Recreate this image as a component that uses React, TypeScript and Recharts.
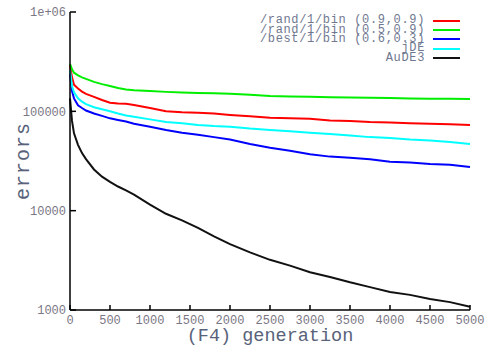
import React from 'react';
import { LineChart, Line, XAxis, YAxis } from 'recharts';

const generations = [0, 25, 50, 100, 150, 200, 300, 400, 500, 600, 700, 800, 1000, 1200, 1400, 1600, 1800, 2000, 2250, 2500, 2750, 3000, 3250, 3500, 3750, 4000, 4250, 4500, 4750, 5000];

const rand09 = [290000, 220000, 185000, 170000, 158000, 150000, 140000, 130000, 122000, 120000, 119000, 116000, 108000, 100000, 98000, 97000, 95000, 92000, 89000, 86000, 85000, 84000, 81000, 80000, 78000, 77000, 76000, 75000, 74000, 73000];
const rand05 = [300000, 265000, 245000, 230000, 220000, 212000, 198000, 188000, 180000, 172000, 166000, 163000, 160000, 157000, 155000, 153000, 152000, 150000, 147000, 143000, 141000, 140000, 139000, 138000, 137000, 136000, 135000, 134000, 134000, 133000];
const best06 = [240000, 160000, 135000, 115000, 108000, 102000, 95000, 90000, 85000, 82000, 79000, 75000, 70000, 65000, 61000, 58000, 55000, 52000, 47000, 43000, 40000, 37000, 35000, 34000, 33000, 31000, 30500, 29500, 29000, 27500];
const jde = [260000, 180000, 155000, 135000, 125000, 118000, 110000, 105000, 100000, 95000, 91000, 88000, 83000, 78000, 76000, 73000, 71000, 70000, 67000, 65000, 63000, 61000, 59000, 57000, 55000, 54000, 52000, 51000, 49000, 47000];
const aude3 = [135000, 80000, 60000, 46000, 38000, 33000, 26000, 22000, 19500, 17500, 16000, 14500, 11500, 9300, 8000, 6700, 5500, 4600, 3800, 3200, 2800, 2400, 2150, 1900, 1700, 1520, 1420, 1290, 1200, 1080];

const xTicks = [0, 500, 1000, 1500, 2000, 2500, 3000, 3500, 4000, 4500, 5000];
const yTicks = [1000, 10000, 100000, 1000000];
const yMinorTicks = [2, 3, 4, 5, 6, 7, 8, 9].flatMap((m) => [m * 1000, m * 10000, m * 100000]);

const series = [
    { key: 'rand09', name: '/rand/1/bin (0.9,0.9)', color: '#ff0000' },
    { key: 'rand05', name: '/rand/1/bin (0.5,0.9)', color: '#00ee00' },
    { key: 'best06', name: '/best/1/bin (0.6,0.3)', color: '#0000ff' },
    { key: 'jde', name: 'jDE', color: '#00ffff' },
    { key: 'aude3', name: 'AuDE3', color: '#111111' },
];

const values: Record<string, number[]> = { rand09, rand05, best06, jde, aude3 };

const data = generations.map((g, i) => {
    const row: Record<string, number> = { gen: g };
    Object.keys(values).forEach((k) => { row[k] = values[k][i]; });
    return row;
});

const mono = '"Liberation Mono", "DejaVu Sans Mono", monospace';
const tickStyle = { fill: '#7a7684', fontSize: 12, fontFamily: mono };

function fmtY(v: number) {
    if (v === 1000000) return '1e+06';
    return String(v);
}

function LegendBox() {
    return (
        <div style={{ position: 'absolute', top: 16, right: 30, fontFamily: mono, fontSize: 12, color: '#6f7890' }}>
            {series.map((s) => (
                <div key={s.key} style={{ display: 'flex', justifyContent: 'flex-end', alignItems: 'center', height: 9.4, lineHeight: '9px' }}>
                    <span style={{ letterSpacing: 0.66, whiteSpace: 'pre' }}>{s.name}</span>
                    <span style={{ display: 'inline-block', width: 27, height: 2, background: s.color, marginLeft: 8 }} />
                </div>
            ))}
        </div>
    );
}

export default function App() {
    return (
        <div style={{ position: 'absolute', left: 0, top: 0, width: 490, height: 346, background: '#fff' }}>
            <LineChart width={490} height={346} data={data} margin={{ top: 12, right: 20, bottom: 0, left: 0 }}>
                <XAxis
                    dataKey="gen"
                    type="number"
                    domain={[0, 5000]}
                    ticks={xTicks}
                    height={36}
                    tick={tickStyle}
                    tickSize={-5}
                    tickMargin={10}
                    stroke="#000"
                    strokeWidth={1.5}
                    label={{ value: '(F4) generation', position: 'insideBottom', offset: 0, dy: -5, fill: '#58627a', fontSize: 18.5, fontFamily: mono }}
                />
                <XAxis
                    xAxisId="top"
                    dataKey="gen"
                    type="number"
                    orientation="top"
                    domain={[0, 5000]}
                    ticks={xTicks}
                    height={0}
                    tick={false}
                    tickSize={-5}
                    stroke="#000"
                    strokeWidth={1.5}
                />
                <YAxis
                    scale="log"
                    domain={[1000, 1000000]}
                    allowDataOverflow
                    ticks={yTicks}
                    tickFormatter={fmtY}
                    width={70}
                    tick={tickStyle}
                    tickSize={-6}
                    tickMargin={10}
                    stroke="#000"
                    strokeWidth={1.5}
                    label={{ value: 'errors', angle: -90, position: 'insideLeft', offset: 22, fill: '#58627a', fontSize: 20, fontFamily: mono, style: { textAnchor: 'middle', letterSpacing: 1 } }}
                />
                <YAxis
                    yAxisId="minor"
                    scale="log"
                    domain={[1000, 1000000]}
                    allowDataOverflow
                    ticks={yMinorTicks}
                    width={0}
                    tick={false}
                    tickSize={-3}
                    axisLine={false}
                    stroke="#000"
                />
                <YAxis
                    yAxisId="right"
                    orientation="right"
                    scale="log"
                    domain={[1000, 1000000]}
                    allowDataOverflow
                    ticks={yTicks}
                    width={0}
                    tick={false}
                    tickSize={-6}
                    stroke="#000"
                    strokeWidth={1.5}
                />
                <YAxis
                    yAxisId="rightMinor"
                    orientation="right"
                    scale="log"
                    domain={[1000, 1000000]}
                    allowDataOverflow
                    ticks={yMinorTicks}
                    width={0}
                    tick={false}
                    tickSize={-3}
                    axisLine={false}
                    stroke="#000"
                />
                {series.map((s) => (
                    <Line
                        key={s.key}
                        type="linear"
                        dataKey={s.key}
                        name={s.name}
                        stroke={s.color}
                        strokeWidth={2}
                        dot={false}
                        isAnimationActive={false}
                    />
                ))}
            </LineChart>
            <LegendBox />
        </div>
    );
}
